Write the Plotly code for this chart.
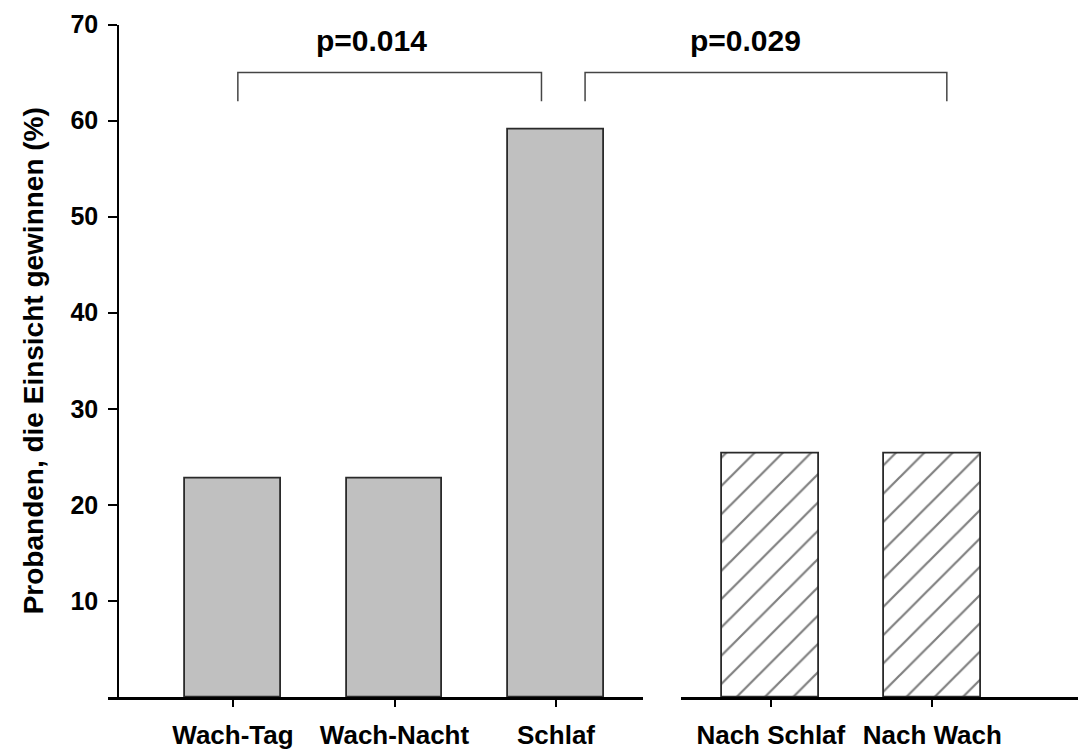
import plotly.graph_objects as go

# Data
categories_sleep = ["Wach-Tag", "Wach-Nacht", "Schlaf"]
values_sleep = [22.7, 22.7, 59.1]
categories_after = ["Nach Schlaf", "Nach Wach"]
values_after = [25.3, 25.3]
y_ticks = [10, 20, 30, 40, 50, 60, 70]
p_labels = ["p=0.014", "p=0.029"]

W, H = 1083, 749
FONT = "Liberation Sans, Arial, sans-serif"
CLEAR = "rgba(0,0,0,0)"

# x positions: second group shifted by a gap
GAP = 0.33
x_sleep = list(range(len(categories_sleep)))
x_after = [len(categories_sleep) + GAP + i for i in range(len(categories_after))]

def fx(px):
    return px / W

def fy(py):
    return (H - py) / H

fig = go.Figure()

# baseline segments for the two groups (drawn first, underneath)
fig.add_trace(go.Scatter(x=[0], y=[None], xaxis="x2", yaxis="y", showlegend=False, hoverinfo="skip"))
fig.add_trace(go.Scatter(x=[0], y=[None], xaxis="x3", yaxis="y", showlegend=False, hoverinfo="skip"))

fig.add_trace(go.Bar(
    x=x_sleep, y=values_sleep, width=0.59,
    marker=dict(color="#c0c0c0", line=dict(color="#2a2a2a", width=1.8)),
    showlegend=False, hoverinfo="skip",
))
fig.add_trace(go.Bar(
    x=x_after, y=values_after, width=0.6,
    marker=dict(color="white", line=dict(color="#2a2a2a", width=1.8),
                pattern=dict(shape="/", fgcolor="black", bgcolor="white",
                             size=20, solidity=0.11, fillmode="overlay")),
    showlegend=False, hoverinfo="skip",
))

# significance brackets (in category units)
def bracket(x0, x1, y_top=65, y_leg=62):
    fig.add_trace(go.Scatter(
        x=[x0, x0, x1, x1], y=[y_leg, y_top, y_top, y_leg],
        mode="lines", line=dict(color="#444444", width=1.5),
        showlegend=False, hoverinfo="skip",
    ))

bracket(x_sleep[0] + 0.03, x_sleep[2] - 0.09)
bracket(x_sleep[2] + 0.18, x_after[1] + 0.09)

pfont = dict(size=30, family=FONT, color="black", weight="bold")
fig.add_annotation(x=0.855, y=68.3, text=p_labels[0], showarrow=False,
                   xref="x", yref="y", font=pfont)
fig.add_annotation(x=3.175, y=68.3, text=p_labels[1], showarrow=False,
                   xref="x", yref="y", font=pfont)

unit = 161.5
zero_px = 233
x_lo, x_hi = 108, 1078

fig.update_layout(
    width=W, height=H,
    margin=dict(l=0, r=0, t=0, b=0),
    paper_bgcolor="white", plot_bgcolor=CLEAR,
    font=dict(family=FONT, color="black"),
    bargap=0,
    xaxis=dict(
        domain=[fx(x_lo), fx(x_hi)],
        range=[(x_lo - zero_px) / unit, (x_hi - zero_px) / unit],
        tickvals=x_sleep + x_after,
        ticktext=categories_sleep + categories_after,
        ticks="outside", ticklen=9, tickwidth=1.5, tickcolor="black",
        showline=False, showgrid=False, zeroline=False,
        tickfont=dict(size=26, family=FONT, color="black", weight="bold"),
        ticklabelstandoff=6,
        anchor="y", automargin=False,
    ),
    xaxis2=dict(
        domain=[fx(108), fx(643)], range=[0, 1], anchor="y",
        showline=True, linecolor="black", linewidth=2.5,
        showticklabels=False, ticks="", showgrid=False, zeroline=False,
        automargin=False,
    ),
    xaxis3=dict(
        domain=[fx(681), fx(x_hi)], range=[0, 1], anchor="y",
        showline=True, linecolor="black", linewidth=2.5,
        showticklabels=False, ticks="", showgrid=False, zeroline=False,
        automargin=False,
    ),
    yaxis=dict(
        domain=[fy(697), fy(24.5)], range=[0, 70],
        anchor="free", position=fx(118),
        tickvals=y_ticks,
        ticks="outside", ticklen=9, tickwidth=1.5, tickcolor="black",
        showline=True, linecolor="black", linewidth=1.5,
        showgrid=False, zeroline=False,
        tickfont=dict(size=25, family=FONT, color="black", weight="bold"),
        ticklabelstandoff=5,
        title=dict(text="Probanden, die Einsicht gewinnen (%)",
                   font=dict(size=28, family=FONT, color="black", weight="bold"),
                   standoff=18),
        automargin=False,
    ),
)

fig.write_html("out.html")
